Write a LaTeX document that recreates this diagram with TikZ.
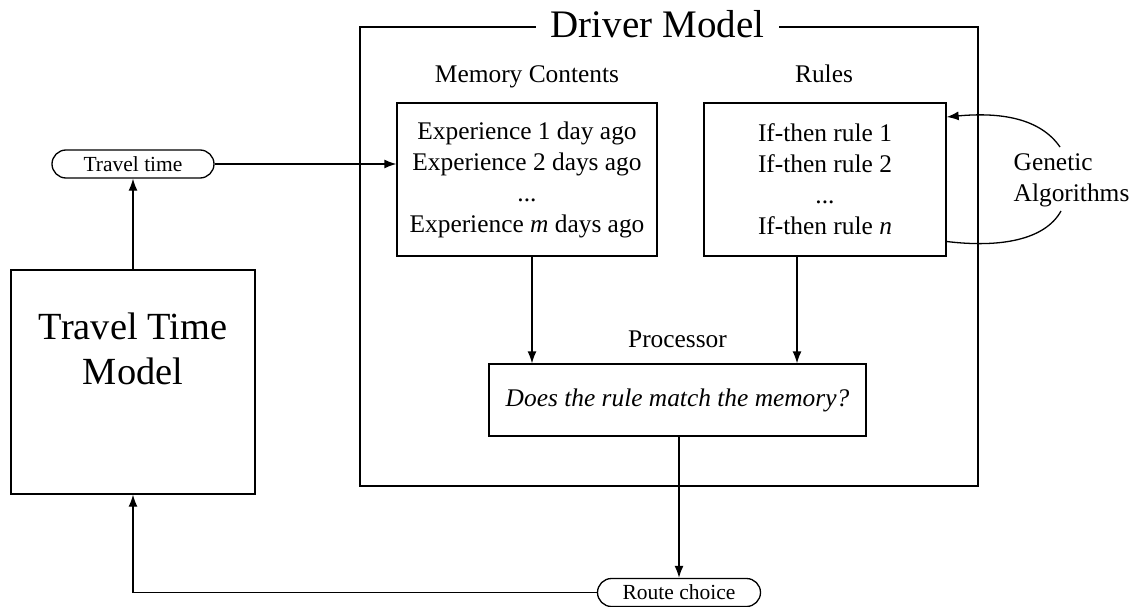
\documentclass[tikz,border=0pt]{standalone}
\usepackage{fontspec}
\setmainfont{Liberation Serif}
\usetikzlibrary{shapes.misc,arrows.meta}
\begin{document}
\begin{tikzpicture}[x=1pt,y=-1pt,line width=1.3pt,
  box/.style={draw,rectangle,inner sep=0pt},
  pill/.style={draw,rounded rectangle,minimum height=28pt,inner sep=0pt,
    font=\fontsize{21.5}{25}\selectfont},
  body/.style={font=\fontsize{25.4}{31}\selectfont,align=center,inner sep=0pt},
  arr/.style={-{Latex[length=12pt,width=9pt]}}]
\useasboundingbox (0,0) rectangle (1137,607);

% driver model frame and its title
\node[box,minimum width=618pt,minimum height=459pt] (dm) at (669,256.5) {};
\node[fill=white,inner xsep=15pt,inner ysep=0pt,anchor=base,
  font=\fontsize{39}{40}\selectfont] (title) at (657.5,38) {Driver Model};

% memory contents
\node[body,anchor=base] (memlbl) at (527,83) {Memory Contents};
\node[box,body,minimum width=260pt,minimum height=153pt] (mem) at (527,179.5)
  {Experience 1 day ago\\Experience 2 days ago\\...\\Experience \textit{m} days ago};

% rules
\node[body,anchor=base] (rulelbl) at (824,83) {Rules};
\node[box,body,minimum width=242pt,minimum height=153pt] (rules) at (825,179.5)
  {If-then rule 1\\If-then rule 2\\...\\If-then rule \textit{n}};

% processor
\node[body,anchor=base] (proclbl) at (677.5,347) {Processor};
\node[box,body,minimum width=377pt,minimum height=72pt] (proc) at (677.5,400)
  {\textit{Does the rule match the memory?}};

% genetic algorithms loop
\node[body,align=left,anchor=west] (ga) at (1013,180) {Genetic\\Algorithms};
\coordinate (gaT) at (1060,147);
\coordinate (gaB) at (1061,211);

% travel time model and the pills
\node[box,minimum width=244pt,minimum height=224pt] (ttm) at (133,382) {};
\node[align=center,inner sep=0pt,font=\fontsize{38.4}{45}\selectfont] (ttmtext)
  at (133,349) {Travel Time\\Model};
\node[pill,minimum width=162pt] (travel) at (133,164) {Travel time};
\node[pill,minimum width=163pt] (route) at (679,592.5) {Route choice};

% connectors
\draw[arr] (travel.east) -- (travel.east -| mem.west);
\draw[arr] (ttm.north) -- (travel.south);
\draw[arr] ([xshift=5pt]mem.south) -- ([xshift=5pt]mem.south |- proc.north);
\draw[arr] ([xshift=-28pt]rules.south) -- ([xshift=-28pt]rules.south |- proc.north);
\draw[arr] (proc.south -| route.north) -- (route.north);
\draw[arr] (route.west) -| (ttm.south);
\draw[arr] (gaT) .. controls (1040,118) and (1000,112) .. ([yshift=62.5pt]rules.east);
\draw ([yshift=-62pt]rules.east) .. controls (1000,248) and (1045,240) .. (gaB);
\end{tikzpicture}
\end{document}
